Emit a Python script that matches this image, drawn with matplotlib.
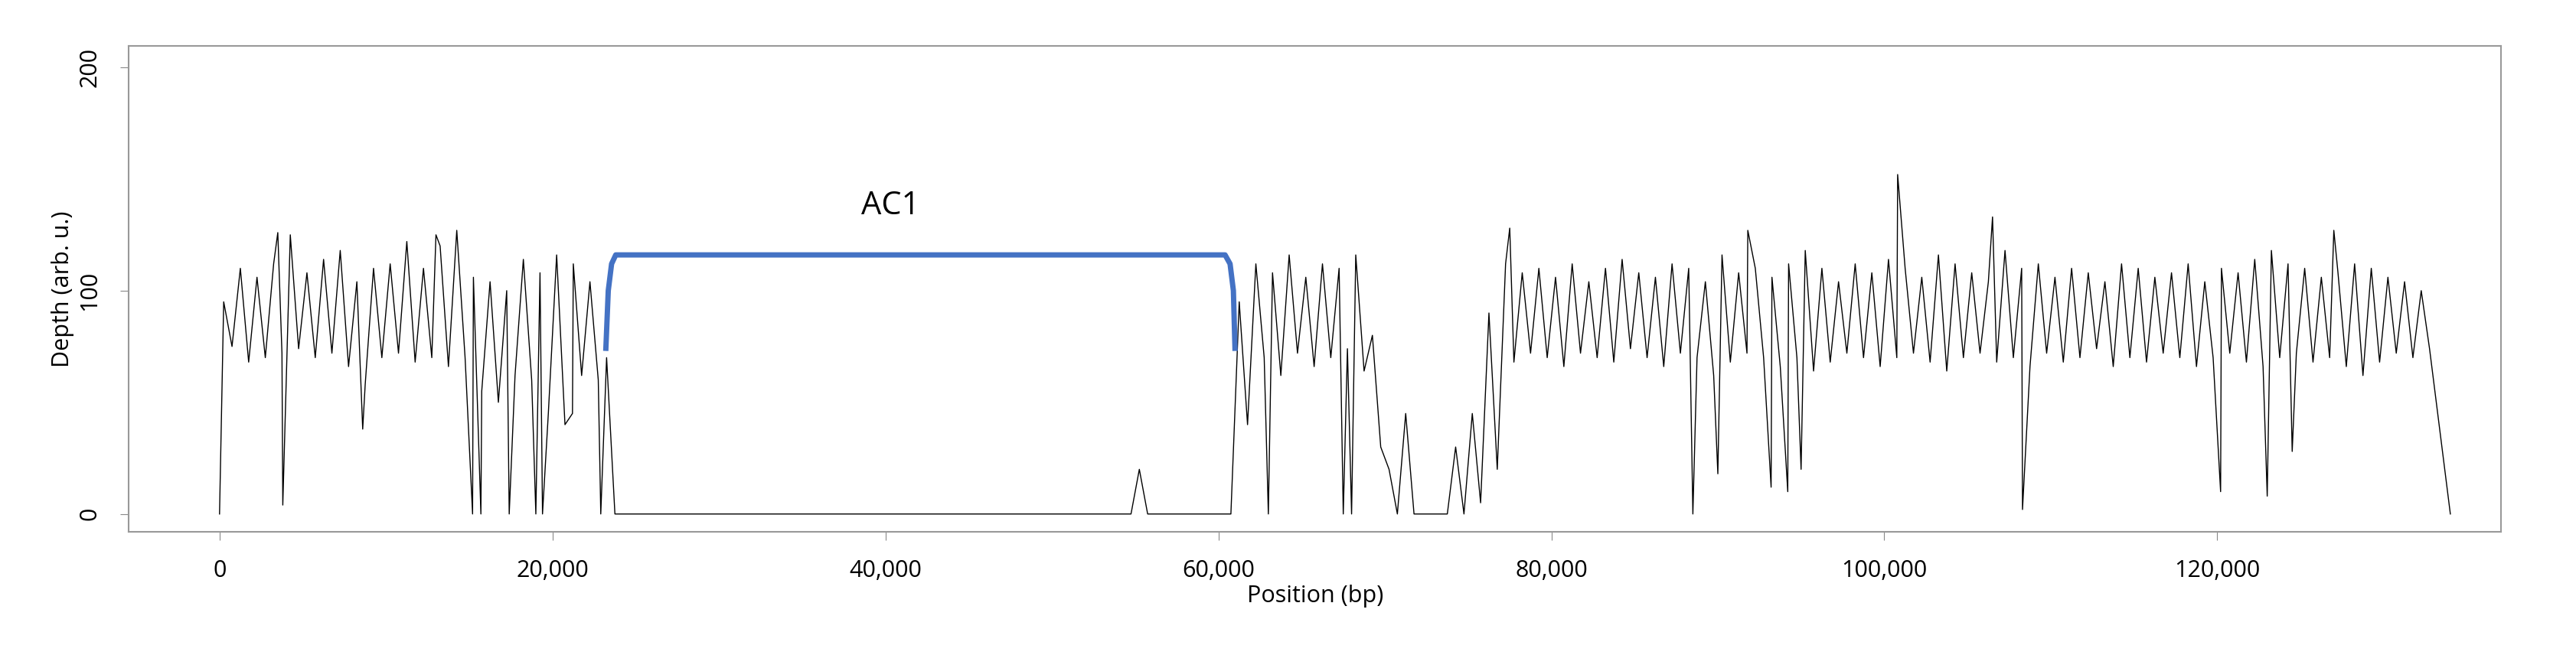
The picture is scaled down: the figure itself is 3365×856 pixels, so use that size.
import matplotlib.pyplot as plt
import numpy as np

# depth envelope per 1 kb bin, positions in kb
bin_kb = np.arange(0, 135)
depth_hi = ([95, 110, 106, 112, 125, 108, 114, 118, 104, 110, 112, 122, 110, 120, 127, 106,
             104, 100, 114, 108, 116, 112, 104, 70]
            + [0] * 31 + [20] + [0] * 5
            + [95, 112, 108, 116, 106, 112, 110, 116, 80, 20, 45, 0, 0, 30, 45, 90]
            + [112, 108, 110, 106, 112, 104, 110, 114, 108, 106, 112, 110, 104, 116, 108, 110,
               106, 112, 118, 110, 104, 112, 108, 114, 110, 106, 116, 112, 108, 104, 118, 110,
               112, 106, 110, 108, 104, 112, 110, 106, 108, 112, 104, 110, 108, 114, 118, 112,
               110, 106, 108, 112, 110, 106, 104, 100])
depth_lo = ([75, 68, 70, 72, 74, 70, 72, 66, 58, 70, 72, 68, 70, 66, 70, 55,
             50, 62, 60, 45, 40, 62, 60, 0]
            + [0] * 37
            + [40, 70, 62, 72, 66, 70, 74, 64, 30, 0, 0, 0, 0, 0, 5, 20]
            + [68, 72, 70, 66, 72, 70, 68, 74, 70, 66, 72, 70, 62, 68, 72, 70,
               66, 70, 64, 68, 72, 70, 66, 70, 72, 68, 64, 70, 72, 68, 70, 66,
               72, 68, 70, 74, 66, 70, 68, 72, 70, 66, 70, 72, 68, 66, 70, 72,
               68, 70, 66, 62, 68, 72, 70, 74])

# isolated spikes (bp, depth)
spike_pos = [0, 3500, 3800, 8600, 13000, 15200, 15700, 17400, 19000, 19400, 21200, 22900,
             63000, 67500, 68000, 77500, 88500, 90000, 91800, 93200, 94200, 95000,
             100800, 106500, 108300, 120200, 123000, 124500, 127000, 134000]
spike_val = [0, 126, 4, 38, 125, 0, 0, 0, 0, 0, 45, 0,
             0, 0, 0, 128, 0, 18, 127, 12, 10, 20,
             152, 133, 2, 10, 8, 28, 127, 0]

# AC1 contig outline
ac1_x = [23200, 23350, 23550, 23800, 60400, 60700, 60900, 61000]
ac1_y = [73, 100, 112, 116, 116, 112, 100, 73]

xs = []
ys = []
for k, h, l in zip(bin_kb, depth_hi, depth_lo):
    xs += [k * 1000 + 250, k * 1000 + 750]
    ys += [h, l]
xs += spike_pos
ys += spike_val
order = np.argsort(xs, kind="stable")
xs = np.array(xs)[order]
ys = np.array(ys)[order]
keep = xs <= 134000
xs, ys = xs[keep], ys[keep]

plt.rcParams['font.family'] = ['Open Sans', 'DejaVu Sans']

fig = plt.figure(figsize=(33.65, 8.56), dpi=100)
ax = fig.add_axes([0.05, 0.188, 0.921, 0.742])

ax.plot(xs, ys, color="black", linewidth=1.0)
ax.plot(ac1_x, ac1_y, color="#4472C4", linewidth=5, solid_capstyle="butt")
ax.text(40300, 138, "AC1", fontsize=30, ha="center", va="center")

ax.set_xlim(-5450, 137060)
ax.set_ylim(-8, 209.6)
ax.set_xticks([0, 20000, 40000, 60000, 80000, 100000, 120000])
ax.set_xticklabels(["0", "20,000", "40,000", "60,000", "80,000", "100,000", "120,000"])
ax.set_yticks([0, 100, 200])
ax.set_yticklabels(["0", "100", "200"], rotation=90, va="center")
ax.tick_params(labelsize=22, color="#888888", length=8, pad=18)
for s in ax.spines.values():
    s.set_color("#999999")
    s.set_linewidth(1.5)

ax.set_xlabel("Position (bp)", fontsize=22, labelpad=2)
ax.set_ylabel("Depth (arb. u.)", fontsize=22)

fig.savefig("out.png", dpi=100)
